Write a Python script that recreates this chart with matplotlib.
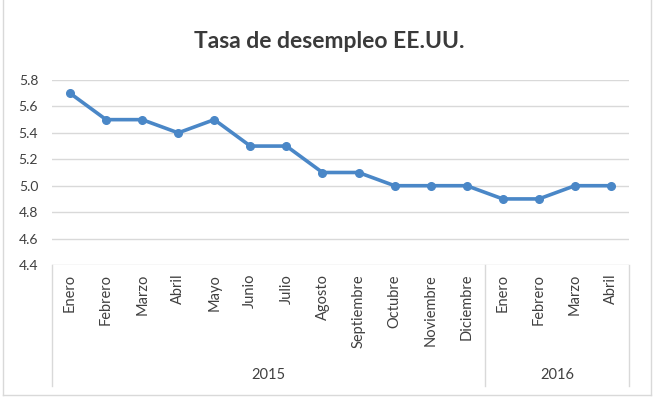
import matplotlib.pyplot as plt
from matplotlib.lines import Line2D

# Data
meses_2015 = ['Enero', 'Febrero', 'Marzo', 'Abril', 'Mayo', 'Junio', 'Julio',
              'Agosto', 'Septiembre', 'Octubre', 'Noviembre', 'Diciembre']
meses_2016 = ['Enero', 'Febrero', 'Marzo', 'Abril']
anios = ['2015', '2016']
tasa = [5.7, 5.5, 5.5, 5.4, 5.5, 5.3, 5.3, 5.1, 5.1, 5.0, 5.0, 5.0,
        4.9, 4.9, 5.0, 5.0]
y_ticks = [4.4, 4.6, 4.8, 5.0, 5.2, 5.4, 5.6, 5.8]

plt.rcParams['font.family'] = ['Lato', 'DejaVu Sans']

W, H = 656, 399
fig = plt.figure(figsize=(W / 100, H / 100), dpi=100)

# plot area in pixels
x0, x1, ytop, ybot = 52, 629, 80, 265
ax = fig.add_axes([x0 / W, (H - ybot) / H, (x1 - x0) / W, (ybot - ytop) / H])

meses = meses_2015 + meses_2016
x = list(range(len(meses)))
ax.plot(x, tasa, color='#4A87C7', linewidth=2.6, marker='o', markersize=5.5,
        solid_capstyle='round', zorder=3, clip_on=False)

ax.set_xlim(-0.5, len(meses) - 0.5)
ax.set_ylim(4.4, 5.8)
ax.set_yticks(y_ticks)
ax.set_yticklabels([f'{v:.1f}' for v in y_ticks], fontsize=10, color='#404040')
ax.tick_params(axis='y', length=0, pad=10)
ax.set_xticks([])
ax.grid(axis='y', color='#D9D9D9', linewidth=1)
ax.set_axisbelow(True)
for s in ax.spines.values():
    s.set_visible(False)

def ay(py):
    return (ybot - py) / (ybot - ytop)

tr = ax.get_xaxis_transform()
for i, m in enumerate(meses):
    ax.text(i, ay(274), m, rotation=90, ha='center', va='top', fontsize=10.5,
            color='#404040', transform=tr)

# category group separators
n15 = len(meses_2015)
for xv in [-0.5, n15 - 0.5, len(meses) - 0.5]:
    ax.add_line(Line2D([xv, xv], [0, ay(386)], color='#D9D9D9', linewidth=1,
                       transform=tr, clip_on=False))
ax.text((n15 - 1) / 2, ay(375), anios[0], ha='center', va='center',
        fontsize=10.5, color='#404040', transform=tr)
ax.text(n15 + (len(meses_2016) - 1) / 2, ay(375), anios[1], ha='center',
        va='center', fontsize=10.5, color='#404040', transform=tr)

fig.text(329 / W, 1 - 42 / H, 'Tasa de desempleo EE.UU.', ha='center',
         va='center', fontsize=16.5, fontweight='bold', color='#3A3A3A')

# outer chart border
bx0, bx1, by1 = 3 / W, 651 / W, 1 - 395 / H
for xs, ys in [([bx0, bx0], [1, by1]), ([bx1, bx1], [1, by1]),
               ([bx0, bx1], [by1, by1])]:
    fig.add_artist(Line2D(xs, ys, color='#D9D9D9', linewidth=1,
                          transform=fig.transFigure))

fig.savefig('out.png', dpi=100, facecolor='white')
